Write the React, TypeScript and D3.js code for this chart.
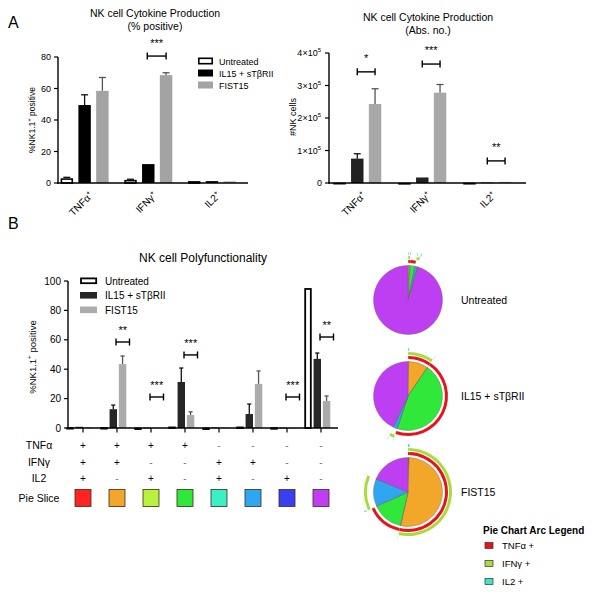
import React from 'react';
import * as d3 from 'd3';

const FONT = "'Liberation Sans', Arial, Helvetica, sans-serif";

// ---------- data ----------
const groups = ['Untreated', 'IL15 + sTβRII', 'FIST15'];
const cytokines = ['TNFα', 'IFNγ', 'IL2'];

// Panel A left: % positive (value, top of error bar)
const pctUntreated = [3.0, 2.0, 1.2];
const pctUntreatedErr = [3.6, 2.4, 1.4];
const pctIL15 = [49.5, 12.0, 1.2];
const pctIL15Err = [56, 12.2, 1.4];
const pctFIST15 = [58.5, 68.5, 1.0];
const pctFIST15Err = [67, 70, 1.2];
const pctTicks = [0, 20, 40, 60, 80];

// Panel A right: absolute numbers
const absUntreated = [1000, 500, 800];
const absUntreatedErr = [1200, 600, 1000];
const absIL15 = [75000, 17000, 1500];
const absIL15Err = [90000, 18500, 2000];
const absFIST15 = [243000, 278000, 3500];
const absFIST15Err = [290000, 303000, 4500];
const absTicks = [0, 1, 2, 3, 4];

// Panel B: polyfunctionality
const combos = ['+++', '++-', '+-+', '+--', '-++', '-+-', '--+', '---'];
const polyUntreated = [0.6, 0.6, 0.3, 1.0, 0.3, 1.0, 0.5, 95.2];
const polyUntreatedErr = [0.8, 0.8, 0.4, 1.2, 0.4, 1.2, 0.6, 95.4];
const polyIL15 = [0.8, 12.8, 0.2, 31.3, 0.3, 9.5, 0.2, 47];
const polyIL15Err = [1.0, 15.6, 0.3, 40.8, 0.4, 16.3, 0.3, 51];
const polyFIST15 = [0.5, 43.5, 0.2, 8.8, 0.2, 30, 0.1, 18.4];
const polyFIST15Err = [0.6, 49, 0.3, 11, 0.3, 38.8, 0.2, 21.8];
const polyTicks = [0, 20, 40, 60, 80, 100];
const tableRows = ['TNFα', 'IFNγ', 'IL2'];

// significance brackets
const sigA1 = [{ cat: 'IFNγ', y: 80.6, label: '***' }];
const sigA2 = [
  { cat: 'TNFα', y: 342000, label: '*' },
  { cat: 'IFNγ', y: 366000, label: '***' },
  { cat: 'IL2', y: 68000, label: '**' },
];
const sigB = [
  { cat: '++-', y: 58.5, label: '**' },
  { cat: '+-+', y: 21.1, label: '***' },
  { cat: '+--', y: 49.7, label: '***' },
  { cat: '--+', y: 21.1, label: '***' },
  { cat: '---', y: 61.9, label: '**' },
];

// pie slices (fraction %) per group, in combo order
const pieUntreated = [0.2, 0.6, 0.2, 2.2, 0.2, 1.0, 0.3, 95.3];
const pieIL15 = [0.3, 9.2, 0.1, 45.5, 0.1, 1.8, 0.1, 42.9];
const pieFIST15 = [0.5, 53.0, 0.1, 14.5, 0.3, 12.8, 0.1, 18.7];
const sliceColors = ['#ff2323', '#f2a62a', '#b9f23d', '#2fe83a', '#3cf0c6', '#2fa6f2', '#3a3ff0', '#be3ff2'];
const arcColors = ['#e8141c', '#a8dc3c', '#3ce6c0'];
const arcLegend = ['TNFα +', 'IFNγ +', 'IL2 +'];

// ---------- helpers ----------
const barFill = ['#ffffff', '#000000', '#a3a3a3'];
const barFillB = ['#ffffff', '#262626', '#ababab'];

function Bracket({ x1, x2, y, label, gap }: any) {
  return (
    <g>
      <line x1={x1} x2={x2} y1={y} y2={y} stroke="#000" strokeWidth={1.4} />
      <line x1={x1} x2={x1} y1={y - 3.5} y2={y + 3.5} stroke="#000" strokeWidth={1.4} />
      <line x1={x2} x2={x2} y1={y - 3.5} y2={y + 3.5} stroke="#000" strokeWidth={1.4} />
      <text x={(x1 + x2) / 2} y={y - gap} textAnchor="middle" fontSize={11}>{label}</text>
    </g>
  );
}

function Bars({ xs, inner, y, vals, errs, fills, cats, stroke, ew }: any) {
  const out: any[] = [];
  vals.forEach((series: number[], si: number) => {
    series.forEach((v: number, ci: number) => {
      const cx = (xs(cats[ci]) as number) + xs.bandwidth() / 2 + (inner(groups[si]) as number);
      const bw = inner.bandwidth();
      const x0 = cx;
      const top = y(v);
      const base = y(0);
      const isWhite = si === 0;
      const errTop = y(errs[si][ci]);
      out.push(
        <g key={si + '-' + ci}>
          {errTop < top - 0.5 && (
            <g stroke={si === 2 ? '#555' : '#111'} strokeWidth={1.3}>
              <line x1={x0} x2={x0} y1={top} y2={errTop} />
              <line x1={x0 - bw * 0.28} x2={x0 + bw * 0.28} y1={errTop} y2={errTop} />
            </g>
          )}
          <rect
            x={x0 - bw / 2 + (isWhite ? ew / 2 : 0)}
            y={isWhite ? top + ew / 2 : top}
            width={isWhite ? bw - ew : bw}
            height={Math.max(isWhite ? base - top - ew / 2 : base - top, 0.6)}
            fill={fills[si]}
            stroke={isWhite ? stroke : 'none'}
            strokeWidth={isWhite ? ew : 0}
          />
        </g>
      );
    });
  });
  return <g>{out}</g>;
}

function Sup({ base, sup, supSize }: any) {
  return (
    <>
      {base}
      <tspan dy={-4} fontSize={supSize}>{sup}</tspan>
    </>
  );
}

export default function App() {
  // Panel A left
  const xA1 = d3.scaleBand<string>().domain(cytokines).range([59, 250]);
  const inA = d3.scaleBand<string>().domain(groups).range([-24, 24]).paddingInner(0.3);
  const yA1 = d3.scaleLinear().domain([0, 80]).range([183, 57]);
  // Panel A right
  const xA2 = d3.scaleBand<string>().domain(cytokines).range([331, 526]);
  const yA2 = d3.scaleLinear().domain([0, 4e5]).range([183, 53]);
  // Panel B
  const xB = d3.scaleBand<string>().domain(combos).range([66, 338]);
  const inB = d3.scaleBand<string>().domain(groups).range([-13, 13]).paddingInner(0.2);
  const yB = d3.scaleLinear().domain([0, 100]).range([428, 281]);
  const cB = (c: string) => (xB(c) as number) + xB.bandwidth() / 2;

  // Pies
  const pieY = d3.scalePoint<string>().domain(groups).range([300, 492]);
  const pieX = 408;
  const pieR = 34.5;
  const pieGen = d3.pie<number>().sort(null).value((d) => d);
  const sliceArc = d3.arc<any>().innerRadius(0).outerRadius(pieR);
  const pies = [pieUntreated, pieIL15, pieFIST15];
  const arcRadii = [38.5, 42.5, 46.5];

  return (
    <svg width={596} height={599} style={{ position: 'absolute', left: 0, top: 0 }} fontFamily={FONT}>
      <rect width={596} height={599} fill="#fff" />

      {/* ---------- Panel A left ---------- */}
      <text x={8} y={28} fontSize={16}>A</text>
      <text x={155} y={17} textAnchor="middle" fontSize={10.5}>NK cell Cytokine Production</text>
      <text x={155} y={30} textAnchor="middle" fontSize={10.5}>(% positive)</text>
      <text transform="translate(35,120) rotate(-90)" textAnchor="middle" fontSize={8.5}>
        <Sup base="%NK1.1" sup="+" supSize={6} />
        <tspan dy={4}> positive</tspan>
      </text>
      {pctTicks.map((t) => (
        <g key={t}>
          <line x1={54} x2={58} y1={yA1(t)} y2={yA1(t)} stroke="#000" strokeWidth={1.2} />
          <text x={51} y={yA1(t) + 3} textAnchor="end" fontSize={9}>{t}</text>
        </g>
      ))}
      <Bars xs={xA1} inner={inA} y={yA1} cats={cytokines}
        vals={[pctUntreated, pctIL15, pctFIST15]} errs={[pctUntreatedErr, pctIL15Err, pctFIST15Err]}
        fills={barFill} stroke="#000" ew={1.6} />
      <line x1={58} x2={58} y1={57} y2={183.7} stroke="#000" strokeWidth={1.4} />
      <line x1={57.3} x2={248} y1={183} y2={183} stroke="#000" strokeWidth={1.4} />
      {cytokines.map((c) => (
        <text key={c} transform={`translate(${(xA1(c) as number) + xA1.bandwidth() / 2 + 3},196) rotate(-45)`}
          textAnchor="end" fontSize={10}>
          <Sup base={c} sup="+" supSize={6.5} />
        </text>
      ))}
      {sigA1.map((s) => {
        const x1 = (xA1(s.cat) as number) + xA1.bandwidth() / 2 + (inA(groups[1]) as number);
        const x2 = (xA1(s.cat) as number) + xA1.bandwidth() / 2 + (inA(groups[2]) as number);
        return <Bracket key={s.cat} x1={x1 - 1} x2={x2} y={yA1(s.y)} label={s.label} gap={9} />;
      })}
      {groups.map((g, i) => (
        <g key={g}>
          <rect x={i === 0 ? 198.8 : 198} y={57.5 + i * 12 + (i === 0 ? 0.8 : 0)} width={i === 0 ? 13.4 : 15}
            height={i === 0 ? 5.4 : 7} fill={barFill[i]} stroke={i === 0 ? '#000' : 'none'} strokeWidth={1.6} />
          <text x={219} y={64.5 + i * 12} fontSize={9}>{g}</text>
        </g>
      ))}

      {/* ---------- Panel A right ---------- */}
      <text x={428} y={21} textAnchor="middle" fontSize={10.5}>NK cell Cytokine Production</text>
      <text x={428} y={34} textAnchor="middle" fontSize={10.5}>(Abs. no.)</text>
      <text transform="translate(296,117) rotate(-90)" textAnchor="middle" fontSize={9}>#NK cells</text>
      {absTicks.map((t) => (
        <g key={t}>
          <line x1={325} x2={329} y1={yA2(t * 1e5)} y2={yA2(t * 1e5)} stroke="#000" strokeWidth={1.2} />
          {t === 0 ? (
            <text x={322} y={yA2(0) + 3} textAnchor="end" fontSize={9}>0</text>
          ) : (
            <text x={321} y={yA2(t * 1e5) + 3} textAnchor="end" fontSize={9}>
              {t}×10<tspan dy={-4} fontSize={6}>5</tspan>
            </text>
          )}
        </g>
      ))}
      <Bars xs={xA2} inner={inA} y={yA2} cats={cytokines}
        vals={[absUntreated, absIL15, absFIST15]} errs={[absUntreatedErr, absIL15Err, absFIST15Err]}
        fills={['#ffffff', '#222222', '#a8a8a8']} stroke="#000" ew={1.2} />
      <line x1={329} x2={329} y1={53} y2={183.7} stroke="#000" strokeWidth={1.4} />
      <line x1={328.3} x2={526} y1={183} y2={183} stroke="#000" strokeWidth={1.4} />
      {cytokines.map((c) => (
        <text key={c} transform={`translate(${(xA2(c) as number) + xA2.bandwidth() / 2 + 3},196) rotate(-45)`}
          textAnchor="end" fontSize={10}>
          <Sup base={c} sup="+" supSize={6.5} />
        </text>
      ))}
      {sigA2.map((s) => {
        const x1 = (xA2(s.cat) as number) + xA2.bandwidth() / 2 + (inA(groups[1]) as number);
        const x2 = (xA2(s.cat) as number) + xA2.bandwidth() / 2 + (inA(groups[2]) as number);
        return <Bracket key={s.cat} x1={x1} x2={x2} y={yA2(s.y)} label={s.label} gap={10} />;
      })}

      {/* ---------- Panel B ---------- */}
      <text x={8} y={229} fontSize={16}>B</text>
      <text x={203} y={262} textAnchor="middle" fontSize={12}>NK cell Polyfunctionality</text>
      <text transform="translate(36,357) rotate(-90)" textAnchor="middle" fontSize={9.5}>
        <Sup base="%NK1.1" sup="+" supSize={6.5} />
        <tspan dy={4}> positive</tspan>
      </text>
      {polyTicks.map((t) => (
        <g key={t}>
          <line x1={64} x2={68} y1={yB(t)} y2={yB(t)} stroke="#000" strokeWidth={1.2} />
          <text x={61} y={yB(t) + 3.5} textAnchor="end" fontSize={10}>{t}</text>
        </g>
      ))}
      <Bars xs={xB} inner={inB} y={yB} cats={combos}
        vals={[polyUntreated, polyIL15, polyFIST15]} errs={[polyUntreatedErr, polyIL15Err, polyFIST15Err]}
        fills={barFillB} stroke="#000" ew={1.8} />
      <line x1={68} x2={68} y1={281} y2={428.7} stroke="#000" strokeWidth={1.4} />
      <line x1={67.3} x2={338} y1={428} y2={428} stroke="#000" strokeWidth={1.4} />
      {combos.map((c) => (
        <line key={c} x1={cB(c)} x2={cB(c)} y1={428} y2={432.5} stroke="#000" strokeWidth={1.2} />
      ))}
      {sigB.map((s) => (
        <Bracket key={s.cat} x1={cB(s.cat) - 1} x2={cB(s.cat) + 12.5} y={yB(s.y)} label={s.label} gap={8} />
      ))}
      {groups.map((g, i) => (
        <g key={g}>
          <rect x={i === 0 ? 81 : 80} y={277.5 + i * 14.5 + (i === 0 ? 0.9 : 0)} width={i === 0 ? 15.2 : 17}
            height={i === 0 ? 4.8 : 6.6} fill={barFillB[i]} stroke={i === 0 ? '#000' : 'none'} strokeWidth={1.8} />
          <text x={105} y={284.5 + i * 14.5} fontSize={10}>{g}</text>
        </g>
      ))}

      {/* table */}
      {tableRows.map((r, ri) => (
        <g key={r}>
          <text x={39} y={449 + ri * 16.5} textAnchor="middle" fontSize={10.5}>{r}</text>
          {combos.map((c) => (
            <text key={c} x={cB(c)} y={449 + ri * 16.5} textAnchor="middle" fontSize={10}
              fill={c[ri] === '+' ? '#000' : '#777'}>{c[ri] === '+' ? '+' : '-'}</text>
          ))}
        </g>
      ))}
      <text x={39} y={502} textAnchor="middle" fontSize={10.5}>Pie Slice</text>
      {combos.map((c, i) => (
        <rect key={c} x={cB(c) - 8} y={489.5} width={16} height={17} fill={sliceColors[i]}
          stroke="#3a2a1a" strokeWidth={0.8} />
      ))}

      {/* pies */}
      {pies.map((vals, pi) => {
        const arcs = pieGen(vals);
        const cy = pieY(groups[pi]) as number;
        return (
          <g key={pi} transform={`translate(${pieX},${cy})`}>
            {arcs.map((a, i) => (
              <path key={i} d={sliceArc(a) as string} fill={sliceColors[i]} stroke="#666" strokeWidth={0.4} />
            ))}
            {arcRadii.map((r, k) => {
              const ring = d3.arc<any>().innerRadius(r - 1.5).outerRadius(r + 1.5);
              return arcs.map((a, i) =>
                combos[i][k] === '+' ? (
                  <path key={k + '-' + i} d={ring(a) as string} fill={arcColors[k]} />
                ) : null
              );
            })}
          </g>
        );
      })}
      {groups.map((g) => (
        <text key={g} x={461} y={(pieY(g) as number) + 4} fontSize={10.5}>{g}</text>
      ))}

      {/* arc legend */}
      <text x={483} y={534} fontSize={10} fontWeight="bold">Pie Chart Arc Legend</text>
      {arcLegend.map((l, i) => (
        <g key={l}>
          <rect x={485} y={542.5 + i * 18} width={8} height={6} fill={arcColors[i]} stroke="#333" strokeWidth={0.7} />
          <text x={502} y={549 + i * 18} fontSize={9.5}>{l}</text>
        </g>
      ))}
    </svg>
  );
}
